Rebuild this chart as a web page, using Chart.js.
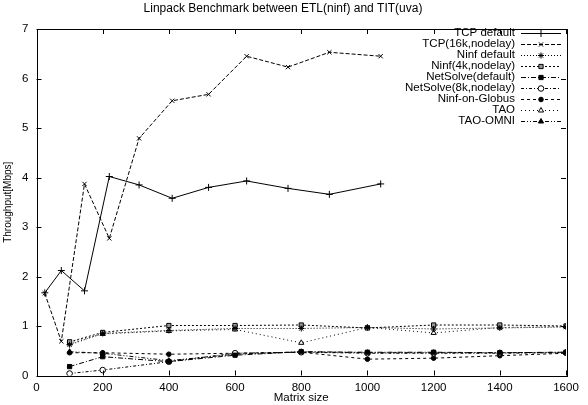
<!DOCTYPE html>
<html>
<head>
<meta charset="utf-8">
<script src="https://cdn.jsdelivr.net/npm/chart.js@4/dist/chart.umd.min.js"></script>
<style>
  html, body { margin: 0; padding: 0; background: #fff; }
  #wrap { width: 588px; height: 405px; position: relative; }
</style>
</head>
<body>
<div id="wrap"><canvas id="c" width="588" height="405"></canvas></div>
<script>
// Matrix sizes for the TCP runs and for the RPC-system runs
const tcpSizes = [25, 75, 145, 220, 310, 410, 520, 635, 760, 885, 1040];
const rpcSizes = [100, 200, 400, 600, 800, 1000, 1200, 1400, 1600];

// Throughput in Mbps
const tcpDefault   = [1.67, 2.12, 1.71, 4.02, 3.85, 3.58, 3.80, 3.93, 3.78, 3.66, 3.87];
const tcp16k       = [1.66, 0.69, 3.87, 2.77, 4.79, 5.55, 5.68, 6.45, 6.23, 6.53, 6.45];
const ninfDefault  = [0.62, 0.85, 0.91, 0.95, 0.95, 0.97, 0.94, 0.96, 0.98];
const ninf4k       = [0.68, 0.87, 1.01, 1.01, 1.02, 0.96, 1.02, 1.02, 1.00];
const netsolveDef  = [0.18, 0.38, 0.28, 0.41, 0.48, 0.47, 0.47, 0.46, 0.47];
const netsolve8k   = [0.04, 0.11, 0.28, 0.45, 0.47, 0.45, 0.45, 0.45, 0.46];
const ninfGlobus   = [0.46, 0.46, 0.43, 0.45, 0.47, 0.33, 0.35, 0.40, 0.45];
const tao          = [0.65, 0.84, 0.90, 0.93, 0.66, 0.97, 0.86, 0.97, 0.99];
const taoOmni      = [0.48, 0.45, 0.30, 0.43, 0.48, 0.46, 0.46, 0.46, 0.47];

const xTicks = [0, 200, 400, 600, 800, 1000, 1200, 1400, 1600];
const yTicks = [0, 1, 2, 3, 4, 5, 6, 7];

const pts = (xs, ys) => ys.map((y, i) => ({ x: xs[i], y }));

function series(label, xs, ys, dash, style, radius, fill) {
  return {
    label,
    data: pts(xs, ys),
    showLine: true,
    borderColor: '#000',
    borderWidth: 1,
    borderDash: dash,
    pointStyle: style,
    pointRadius: radius,
    pointBorderWidth: 1,
    pointBorderColor: '#000',
    pointBackgroundColor: fill,
    backgroundColor: fill,
    tension: 0
  };
}

const datasets = [
  series('TCP default',          tcpSizes, tcpDefault,  [],            'cross',    3.5, '#000'),
  series('TCP(16k,nodelay)',     tcpSizes, tcp16k,      [4, 2],        'crossRot', 3,   '#000'),
  series('Ninf default',         rpcSizes, ninfDefault, [1, 2],        'star',     3,   '#000'),
  series('Ninf(4k,nodelay)',     rpcSizes, ninf4k,      [2, 2],        'rect',     3,   '#999'),
  series('NetSolve(default)',    rpcSizes, netsolveDef, [5, 2, 1, 2],  'rect',     3,   '#000'),
  series('NetSolve(8k,nodelay)', rpcSizes, netsolve8k,  [3, 2, 1, 2],  'circle',   2.8, '#fff'),
  series('Ninf-on-Globus',       rpcSizes, ninfGlobus,  [3, 3],        'circle',   2.3, '#000'),
  series('TAO',                  rpcSizes, tao,         [1, 3],        'triangle', 3,   '#fff'),
  series('TAO-OMNI',             rpcSizes, taoOmni,     [4, 2, 1, 2, 1, 2], 'triangle', 3, '#000')
];

const FONT = 'Liberation Sans, Arial, Helvetica, sans-serif';

// Frame around the plot with inward ticks mirrored on all four sides
const framePlugin = {
  id: 'frame',
  afterDatasetsDraw(chart) {
    const { ctx, chartArea: a, scales } = chart;
    ctx.save();
    ctx.strokeStyle = '#000';
    ctx.lineWidth = 1;
    ctx.setLineDash([]);
    ctx.beginPath();
    const L = 5;
    xTicks.forEach(v => {
      const x = Math.round(scales.x.getPixelForValue(v)) + 0.5;
      ctx.moveTo(x, a.bottom); ctx.lineTo(x, a.bottom - L);
      ctx.moveTo(x, a.top);    ctx.lineTo(x, a.top + L);
    });
    yTicks.forEach(v => {
      const y = Math.round(scales.y.getPixelForValue(v)) + 0.5;
      ctx.moveTo(a.left, y);  ctx.lineTo(a.left + L, y);
      ctx.moveTo(a.right, y); ctx.lineTo(a.right - L, y);
    });
    ctx.stroke();
    ctx.strokeRect(Math.round(a.left) + 0.5, Math.round(a.top) + 0.5,
                   Math.round(a.right - a.left), Math.round(a.bottom - a.top));
    ctx.restore();
  }
};

// Key in the upper right: label right-aligned, sample line with marker after it
const keyPlugin = {
  id: 'key',
  afterDraw(chart) {
    const { ctx } = chart;
    const textRight = 515, x0 = 521, x1 = 561, top = 33, step = 11;
    ctx.save();
    ctx.font = '11.5px ' + FONT;
    ctx.textAlign = 'right';
    ctx.textBaseline = 'middle';
    chart.data.datasets.forEach((ds, i) => {
      const y = top + i * step;
      ctx.fillStyle = '#000';
      ctx.fillText(ds.label, textRight, y);
      ctx.strokeStyle = '#000';
      ctx.lineWidth = 1;
      ctx.setLineDash(ds.borderDash);
      ctx.beginPath();
      ctx.moveTo(x0, y + 0.5); ctx.lineTo(x1, y + 0.5);
      ctx.stroke();
      ctx.setLineDash([]);
      ctx.fillStyle = ds.pointBackgroundColor;
      Chart.helpers.drawPoint(ctx, {
        pointStyle: ds.pointStyle, radius: ds.pointRadius, borderWidth: 1, rotation: 0
      }, (x0 + x1) / 2, y + 0.5);
    });
    ctx.restore();
  }
};

new Chart(document.getElementById('c'), {
  type: 'scatter',
  data: { datasets },
  options: {
    responsive: false,
    animation: false,
    layout: { padding: { left: 0, right: 22, top: 0, bottom: 0 } },
    plugins: {
      legend: { display: false },
      tooltip: { enabled: false },
      title: {
        display: true,
        text: 'Linpack Benchmark between ETL(ninf) and TIT(uva)',
        color: '#000',
        font: { family: FONT, size: 12, weight: 'normal' },
        padding: { top: 1, bottom: 13.6 }
      }
    },
    scales: {
      x: {
        type: 'linear',
        min: 0, max: 1600,
        afterBuildTicks: s => { s.ticks = xTicks.map(v => ({ value: v })); },
        afterFit: s => { s.height = 29.5; },
        grid: { display: false, drawTicks: false },
        border: { display: false },
        ticks: { color: '#000', font: { family: FONT, size: 11.5 }, padding: 5, maxRotation: 0,
                 autoSkip: false, callback: v => String(v) },
        title: { display: true, text: 'Matrix size', color: '#000',
                 font: { family: FONT, size: 11.5 }, padding: { top: 0, bottom: 0 } }
      },
      y: {
        type: 'linear',
        min: 0, max: 7,
        afterBuildTicks: s => { s.ticks = yTicks.map(v => ({ value: v })); },
        afterFit: s => { s.width = 36.5; },
        grid: { display: false, drawTicks: false },
        border: { display: false },
        ticks: { color: '#000', font: { family: FONT, size: 11.5 }, padding: 8,
                 callback: v => String(v) },
        title: { display: true, text: 'Throughput[Mbps]', color: '#000',
                 font: { family: FONT, size: 10 }, padding: { top: 2, bottom: 0 } }
      }
    }
  },
  plugins: [framePlugin, keyPlugin]
});
</script>
</body>
</html>
